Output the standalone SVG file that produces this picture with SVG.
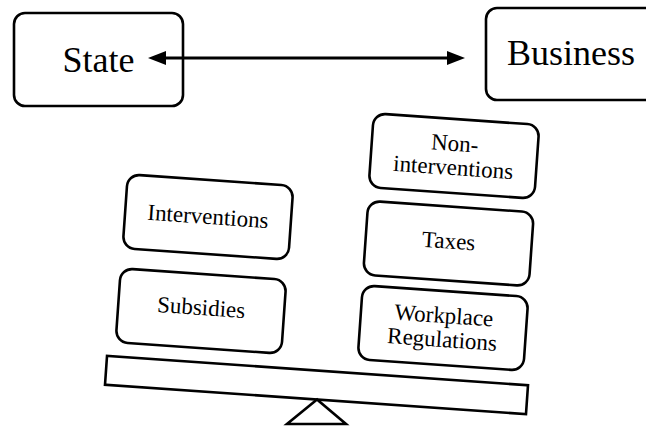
<svg xmlns="http://www.w3.org/2000/svg" width="646" height="427" viewBox="0 0 646 427">
<style>
.box{fill:#fff;stroke:#000;stroke-width:2.6}
.t{fill:#000;text-anchor:middle}
.big{font-size:36px}
.sm{font-size:23px}
.conn{stroke:#000;stroke-width:3;fill:none}
</style>
<defs>
<marker id="ah" viewBox="0 0 18 14" refX="2" refY="7" markerWidth="18" markerHeight="14" markerUnits="userSpaceOnUse" orient="auto-start-reverse">
<path d="M0,0 L18,7 L0,14 Z" fill="#000"/>
</marker>
</defs>
<rect width="646" height="427" fill="#fff"/>
<g font-family="Liberation Serif, DejaVu Serif, serif">
<g id="state">
<rect class="box" x="14" y="13" width="169" height="93" rx="11"/>
<text class="t big" x="98.5" y="72">State</text>
</g>
<g id="business">
<rect class="box" x="486" y="8" width="175" height="92" rx="11"/>
<text class="t big" x="571" y="65">Business</text>
</g>
<g id="connectors">
<line class="conn" x1="164" y1="58" x2="449" y2="58" marker-start="url(#ah)" marker-end="url(#ah)"/>
</g>
<g id="interventions" transform="translate(208,217) rotate(4)">
<rect class="box" x="-83" y="-37" width="166" height="74" rx="12"/>
<text class="t sm" x="0" y="7">Interventions</text>
</g>
<g id="subsidies" transform="translate(201,311) rotate(4)">
<rect class="box" x="-83" y="-37" width="166" height="74" rx="12"/>
<text class="t sm" x="0" y="4">Subsidies</text>
</g>
<g id="non-interventions" transform="translate(454,156) rotate(4)">
<rect class="box" x="-83" y="-37" width="166" height="74" rx="12"/>
<text class="t sm" x="0" y="-5">Non-</text>
<text class="t sm" x="0" y="19">interventions</text>
</g>
<g id="taxes" transform="translate(448.5,243.5) rotate(4)">
<rect class="box" x="-83" y="-37" width="166" height="74" rx="12"/>
<text class="t sm" x="0" y="5">Taxes</text>
</g>
<g id="workplace" transform="translate(443,328) rotate(4)">
<rect class="box" x="-83" y="-37" width="166" height="74" rx="12"/>
<text class="t sm" x="0" y="-5">Workplace</text>
<text class="t sm" x="0" y="19">Regulations</text>
</g>
<g id="beam" transform="translate(316.5,385) rotate(4)">
<rect class="box" x="-211" y="-14.5" width="422" height="29"/>
</g>
<g id="fulcrum">
<polygon class="box" points="317,399.5 287,424 346,424"/>
</g>
</g>
</svg>
